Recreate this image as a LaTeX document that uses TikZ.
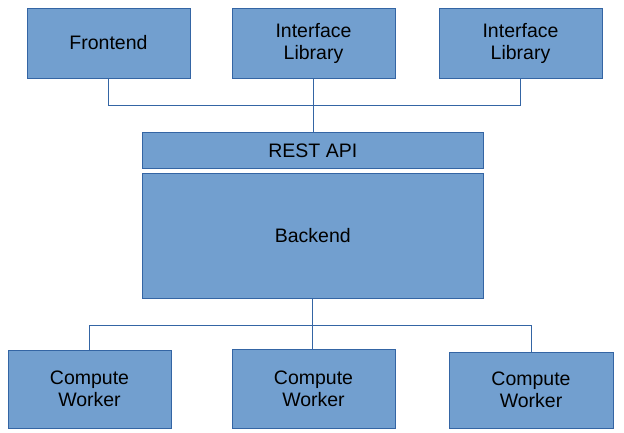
\documentclass[tikz,border=0pt]{standalone}
\usepackage{fontspec}
\setmainfont{Liberation Sans}
\definecolor{boxfill}{HTML}{729FCF}
\definecolor{boxline}{HTML}{3465A4}
\begin{document}
\begin{tikzpicture}[x=1pt,y=-1pt,
  box/.style={draw=boxline,fill=boxfill,line width=1pt,inner sep=0pt,align=center,
    font=\fontsize{19.5}{22}\selectfont,text=black},
  wire/.style={draw=boxline,line width=1pt}]
\useasboundingbox (0,0) rectangle (624,432);
\node[box,minimum width=163pt,minimum height=70pt] (fe) at (108.5,43) {Frontend};
\node[box,minimum width=163pt,minimum height=70pt] (il1) at (313.5,43) {Interface\\Library};
\node[box,minimum width=163pt,minimum height=70pt] (il2) at (520.5,43) {Interface\\Library};
\node[box,minimum width=341pt,minimum height=36pt] (rest) at (312.8,150.3) {REST API};
\node[box,minimum width=341pt,minimum height=125pt] (be) at (312.8,235.8) {Backend};
\node[box,minimum width=163pt,minimum height=78pt] (cw1) at (89.5,389) {Compute\\Worker};
\node[box,minimum width=163pt,minimum height=79pt] (cw2) at (313.5,388.5) {Compute\\Worker};
\node[box,minimum width=164pt,minimum height=76pt] (cw3) at (531,390) {Compute\\Worker};
\coordinate (tb) at (0,105);
\coordinate (bb) at (0,325);
\draw[wire] (fe.south) -- (fe.south |- tb) -| (il2.south);
\draw[wire] (il1.south) -- (il1.south |- rest.north);
\draw[wire] (be.south) -- (be.south |- cw2.north);
\draw[wire] (cw1.north) -- (cw1.north |- bb) -| (cw3.north);
\end{tikzpicture}
\end{document}
